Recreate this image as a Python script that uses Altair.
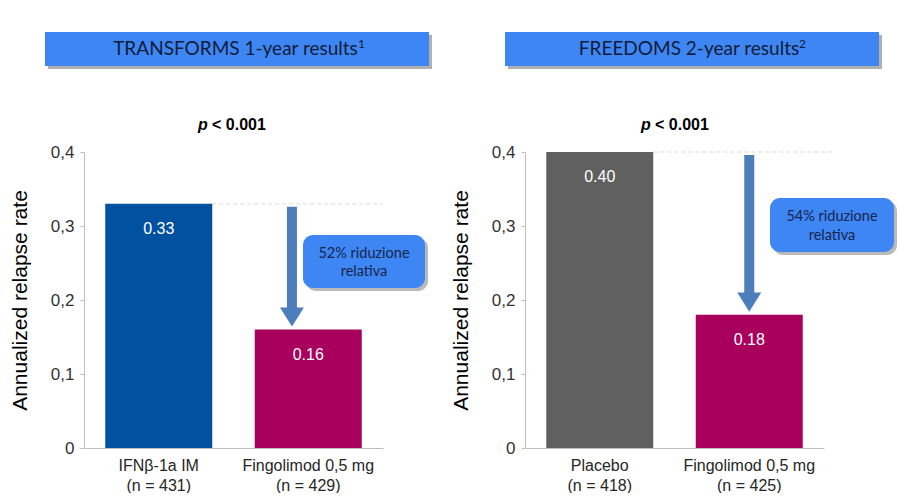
import altair as alt
import pandas as pd

# ---------------- data ----------------
left_groups = ["IFNβ-1a IM|(n = 431)", "Fingolimod 0,5 mg|(n = 429)"]
left_values = [0.33, 0.16]
left_labels = ["0.33", "0.16"]
left_colors = ["#00519F", "#A8005C"]

right_groups = ["Placebo|(n = 418)", "Fingolimod 0,5 mg|(n = 425)"]
right_values = [0.40, 0.18]
right_labels = ["0.40", "0.18"]
right_colors = ["#606060", "#A8005C"]

y_ticks = [0, 0.1, 0.2, 0.3, 0.4]
y_title = "Annualized relapse rate"
left_header = "TRANSFORMS 1-year results"
left_sup = "1"
right_header = "FREEDOMS 2-year results"
right_sup = "2"
left_callout = ["52% riduzione", "relativa"]
right_callout = ["54% riduzione", "relativa"]
p_italic = "p"
p_rest = "< 0.001"

W, H = 299, 296
BOX_BLUE = "#3F86F5"
SHADOW = "#A9A9A9"
ARROW = "#4C7EBC"
AXIS_GRAY = "#BFBFBF"
BASE_FONT = "Liberation Sans"
BOX_FONT = "Lato"


def one(**kw):
    return pd.DataFrame([kw])


def panel(groups, values, labels, colors, header, sup, hdr_x, hdr_tx, sup_x, callout,
          box, arrow_band, dash_end, p_x):
    df = pd.DataFrame({"group": groups, "value": values, "label": labels, "color": colors})
    x = alt.X(
        "group:N",
        scale=alt.Scale(domain=groups, paddingInner=0, paddingOuter=0),
        axis=alt.Axis(
            title=None, labelAngle=0, labelExpr="split(datum.label, '|')",
            labelFontSize=16, labelLineHeight=20, labelColor="#262626",
            labelPadding=17, ticks=False, domainColor=AXIS_GRAY, labelFont=BASE_FONT,
            labelFlush=False, labelAlign="center",
        ),
    )
    y = alt.Y(
        "value:Q",
        scale=alt.Scale(domain=[0, 0.4], nice=False, zero=True),
        axis=alt.Axis(
            values=y_ticks, grid=False, tickSize=4, tickColor=AXIS_GRAY,
            domainColor=AXIS_GRAY, labelFontSize=17, labelColor="#333333",
            labelPadding=6, labelFlush=False, labelFont=BASE_FONT,
            labelExpr="datum.value == 0 ? '0' : replace(format(datum.value, '.1f'), '.', ',')",
            titleFontSize=21, titleFontWeight="normal", titleColor="#000000",
            titlePadding=20, titleFont=BASE_FONT,
        ),
        title=y_title,
    )

    bars = alt.Chart(df).mark_bar(size=107).encode(
        x=x, y=y, color=alt.Color("color:N", scale=None)
    )
    vals = alt.Chart(df).mark_text(
        dy=25, color="white", fontSize=16, font=BASE_FONT, baseline="middle"
    ).encode(x=x, y=y, text="label:N")

    # dashed reference line from the first bar top
    dash_df = pd.DataFrame({"group": [groups[0]], "value": [values[0]]})
    dash = alt.Chart(dash_df).mark_rule(
        color="#D9D9D9", strokeDash=[4, 3], strokeWidth=1
    ).encode(
        x=alt.X("group:N", bandPosition=0.5 + 53.5 / 149.5,
                scale=alt.Scale(domain=groups, paddingInner=0, paddingOuter=0)),
        x2=alt.value(dash_end), y=y,
    )

    # arrow
    arr_df = pd.DataFrame({
        "group": [groups[1]],
        "value": [values[0] - 0.004],
        "value2": [values[1] + 0.027],
        "tip": [values[1]],
    })
    ax = alt.X("group:N", bandPosition=arrow_band,
               scale=alt.Scale(domain=groups, paddingInner=0, paddingOuter=0))
    shaft = alt.Chart(arr_df).mark_rule(
        color=ARROW, strokeWidth=10, strokeCap="butt"
    ).encode(x=ax, y=y, y2="value2:Q")
    head = alt.Chart(arr_df).mark_point(
        shape="M-1,-1.85L1,-1.85L0,-0.25Z", filled=True, size=576,
        color=ARROW, opacity=1, strokeWidth=0,
    ).encode(x=ax, y=alt.Y("tip:Q"))

    # header box
    hx1, hx2 = hdr_x
    hdr_shadow = alt.Chart(one(a=1)).mark_rect(color="#B0B0B0").encode(
        x=alt.value(hx1 + 3), x2=alt.value(hx2 + 3),
        y=alt.value(-117), y2=alt.value(-83))
    hdr_box = alt.Chart(one(a=1)).mark_rect(color=BOX_BLUE).encode(
        x=alt.value(hx1), x2=alt.value(hx2), y=alt.value(-120), y2=alt.value(-86))
    hdr_text = alt.Chart(one(a=1)).mark_text(
        font=BOX_FONT, fontSize=19, color="#101C38", baseline="middle", align="center"
    ).encode(x=alt.value(hdr_tx), y=alt.value(-103), text=alt.value(header))
    hdr_sup = alt.Chart(one(a=1)).mark_text(
        font=BOX_FONT, fontSize=12, color="#101C38", baseline="middle", align="left"
    ).encode(x=alt.value(sup_x), y=alt.value(-108), text=alt.value(sup))

    # p value
    p1 = alt.Chart(one(a=1)).mark_text(
        font=BASE_FONT, fontSize=16, fontWeight="bold", fontStyle="italic",
        color="#000000", align="left", baseline="middle"
    ).encode(x=alt.value(p_x), y=alt.value(-27), text=alt.value(p_italic))
    p2 = alt.Chart(one(a=1)).mark_text(
        font=BASE_FONT, fontSize=16, fontWeight="bold",
        color="#000000", align="left", baseline="middle"
    ).encode(x=alt.value(p_x + 14), y=alt.value(-27), text=alt.value(p_rest))

    # callout
    bx1, bx2, by1, by2, tx, ty1, ty2 = box
    c_shadow = alt.Chart(one(a=1)).mark_rect(color=SHADOW, cornerRadius=10, opacity=0.8).encode(
        x=alt.value(bx1 + 3), x2=alt.value(bx2 + 3),
        y=alt.value(by1 + 3), y2=alt.value(by2 + 3))
    c_box = alt.Chart(one(a=1)).mark_rect(color=BOX_BLUE, cornerRadius=10).encode(
        x=alt.value(bx1), x2=alt.value(bx2), y=alt.value(by1), y2=alt.value(by2))
    c_t1 = alt.Chart(one(a=1)).mark_text(
        font=BOX_FONT, fontSize=14.5, color="#16244A", baseline="middle"
    ).encode(x=alt.value(tx), y=alt.value(ty1), text=alt.value(callout[0]))
    c_t2 = alt.Chart(one(a=1)).mark_text(
        font=BOX_FONT, fontSize=14.5, color="#16244A", baseline="middle"
    ).encode(x=alt.value(tx), y=alt.value(ty2), text=alt.value(callout[1]))

    return alt.layer(
        hdr_shadow, hdr_box, hdr_text, hdr_sup, p1, p2, dash, bars, vals, shaft, head,
        c_shadow, c_box, c_t1, c_t2
    ).properties(width=W, height=H)


left = panel(left_groups, left_values, left_labels, left_colors, left_header, left_sup,
             (-39, 345), 151.5, 274, left_callout,
             (219, 341, 83, 136, 280, 102, 120), 0.391, 299, 114)
right = panel(right_groups, right_values, right_labels, right_colors, right_header, right_sup,
              (-20, 354), 164, 274, right_callout,
              (245, 369, 46, 100, 307, 65, 84), 0.5, 310, 116)

chart = alt.hconcat(left, right, spacing=142, bounds="flush").properties(
    padding={"left": 1, "top": 24, "right": 0, "bottom": 0}
).configure(font=BASE_FONT, view=alt.ViewConfig(stroke=None))

chart.save("out.html", embed_options={"renderer": "svg", "actions": False})
